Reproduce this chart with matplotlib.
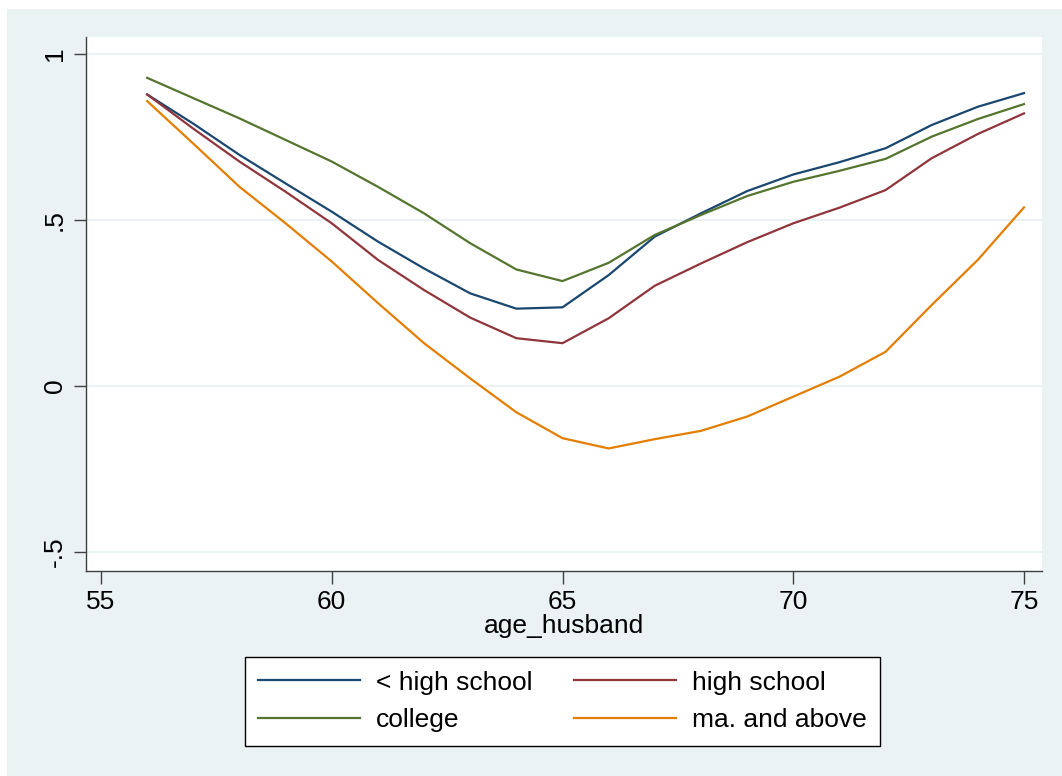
import numpy as np
import matplotlib.pyplot as plt
from matplotlib.patches import Rectangle

# === データ ===
age = [56, 57, 58, 59, 60, 61, 62, 63, 64, 65, 66, 67, 68, 69, 70, 71, 72, 73, 74, 75]

less_hs = [0.878, 0.790, 0.696, 0.610, 0.525, 0.435, 0.354, 0.279, 0.233, 0.237,
           0.334, 0.450, 0.520, 0.587, 0.637, 0.674, 0.716, 0.786, 0.841, 0.882]
high_school = [0.878, 0.775, 0.676, 0.585, 0.490, 0.380, 0.289, 0.206, 0.144, 0.129,
               0.204, 0.302, 0.369, 0.433, 0.490, 0.537, 0.590, 0.686, 0.759, 0.821]
college = [0.928, 0.867, 0.806, 0.741, 0.676, 0.600, 0.520, 0.430, 0.351, 0.316,
           0.371, 0.455, 0.515, 0.572, 0.615, 0.648, 0.684, 0.751, 0.804, 0.849]
ma_above = [0.858, 0.730, 0.600, 0.490, 0.375, 0.250, 0.129, 0.023, -0.079, -0.157,
            -0.188, -0.160, -0.135, -0.092, -0.032, 0.028, 0.103, 0.244, 0.380, 0.538]

x_ticks = [55, 60, 65, 70, 75]
y_ticks = [-0.5, 0, 0.5, 1]
y_labels = ['-.5', '0', '.5', '1']

series = [
    ('< high school', less_hs, '#1A476F'),
    ('high school', high_school, '#90353B'),
    ('college', college, '#55752F'),
    ('ma. and above', ma_above, '#E37E00'),
]

bg = '#EAF2F3'
plt.rcParams['font.family'] = ['Liberation Sans', 'DejaVu Sans']

fig = plt.figure(figsize=(10.62, 7.76), dpi=100, facecolor='white')
# Stata風の背景
fig.patches.append(Rectangle((7 / 1062, 0), 1 - 7 / 1062, 1 - 9 / 776,
                             transform=fig.transFigure, facecolor=bg,
                             edgecolor='none', zorder=-10))

ax = fig.add_axes([86 / 1062, 1 - 571 / 776, (1042 - 86) / 1062, (571 - 37) / 776])
ax.set_facecolor('white')

for label, vals, color in series:
    ax.plot(age, vals, color=color, lw=1.6, label=label)

ax.set_xlim(54.675, 75.39)
ax.set_ylim(-0.557, 1.051)
ax.set_xticks(x_ticks)
ax.set_yticks(y_ticks)
ax.set_yticklabels(y_labels, rotation=90, va='center')
ax.yaxis.grid(True, color=bg, lw=1.5)
ax.set_axisbelow(True)

for s in ['top', 'right']:
    ax.spines[s].set_visible(False)
for s in ['left', 'bottom']:
    ax.spines[s].set_color('#404040')
    ax.spines[s].set_linewidth(1.0)

ax.tick_params(axis='both', length=9, width=1.0, color='#404040',
               labelsize=19, pad=5)
ax.set_xlabel('age_husband', fontsize=19, labelpad=0)

# 行優先の並び（< high school, high school / college, ma. and above）
handles, labels = ax.get_legend_handles_labels()
order = [0, 2, 1, 3]
leg = fig.legend([handles[i] for i in order], [labels[i] for i in order],
                 ncol=2, loc='upper center', bbox_to_anchor=(562.5 / 1062, 1 - 657 / 776),
                 borderaxespad=0,
                 fontsize=19, frameon=True, fancybox=False, edgecolor='black',
                 facecolor='white', framealpha=1,
                 handlelength=3.85, handletextpad=0.6, columnspacing=1.6,
                 labelspacing=0.52, borderpad=0.52)
leg.get_frame().set_linewidth(1.0)

fig.savefig('out.png', dpi=100, facecolor=fig.get_facecolor())
